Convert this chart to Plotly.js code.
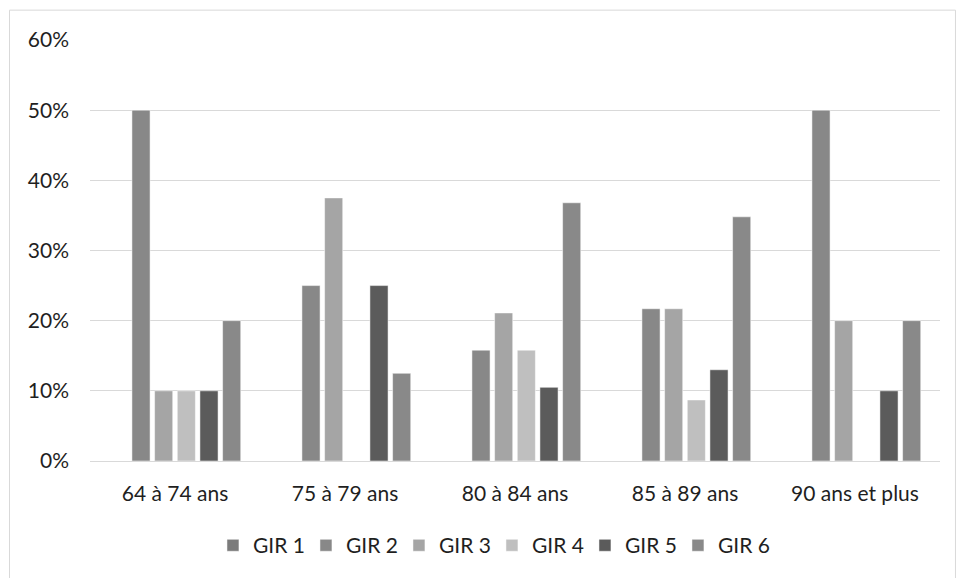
<!DOCTYPE html>
<html>
<head>
<meta charset="utf-8">
<script src="https://cdn.plot.ly/plotly-3.0.1.min.js"></script>
<style>html,body{margin:0;padding:0;background:#fff;}#chart{width:956px;height:578px;}</style>
</head>
<body>
<div id="chart"></div>
<script>
const categories = ["64 à 74 ans", "75 à 79 ans", "80 à 84 ans", "85 à 89 ans", "90 ans et plus"];
const seriesNames = ["GIR 1", "GIR 2", "GIR 3", "GIR 4", "GIR 5", "GIR 6"];
const gir1 = [0, 0, 0, 0, 0];
const gir2 = [0.50, 0.25, 0.158, 0.217, 0.50];
const gir3 = [0.10, 0.375, 0.211, 0.217, 0.20];
const gir4 = [0.10, 0, 0.158, 0.087, 0];
const gir5 = [0.10, 0.25, 0.105, 0.130, 0.10];
const gir6 = [0.20, 0.125, 0.368, 0.348, 0.20];
const seriesValues = [gir1, gir2, gir3, gir4, gir5, gir6];
const colors = ["#7b7b7b", "#888888", "#a5a5a5", "#bfbfbf", "#5b5b5b", "#898989"];

const traces = seriesValues.map((vals, i) => ({
  type: "bar",
  name: seriesNames[i],
  x: categories,
  y: vals,
  marker: {color: colors[i], line: {color: "rgba(255,255,255,0.5)", width: 1}},
  hoverinfo: "x+y+name"
}));

const font = {family: "Lato, 'Open Sans', sans-serif", size: 21, color: "#1f1f1f"};

const layout = {
  width: 956, height: 578,
  margin: {l: 90, r: 16, t: 40, b: 115},
  paper_bgcolor: "#ffffff",
  plot_bgcolor: "#ffffff",
  font: font,
  barmode: "group",
  bargap: 0.2,
  bargroupgap: 0.2,
  showlegend: true,
  legend: {orientation: "h", x: 0.4729, xanchor: "center", y: -0.201, yanchor: "middle", font: font,
           traceorder: "normal", entrywidth: 48, entrywidthmode: "pixels"},
  xaxis: {
    showgrid: false, showline: true, linecolor: "#d9d9d9", linewidth: 1,
    ticks: "", tickfont: font, ticklabelstandoff: 14, zeroline: false
  },
  yaxis: {
    range: [0, 0.6], dtick: 0.1, tick0: 0, tickformat: ".0%",
    showgrid: true, gridcolor: "#d9d9d9", gridwidth: 1,
    showline: false, zeroline: false, ticks: "", tickfont: font, ticklabelstandoff: 20
  },
  shapes: [{
    type: "rect", xref: "paper", yref: "paper",
    x0: -0.0947, x1: 1.0182, y0: -0.28, y1: 1.0709,
    line: {color: "#d9d9d9", width: 1}, fillcolor: "rgba(0,0,0,0)", layer: "below"
  }]
};

Plotly.newPlot("chart", traces, layout, {displayModeBar: false, staticPlot: true});
</script>
</body>
</html>
